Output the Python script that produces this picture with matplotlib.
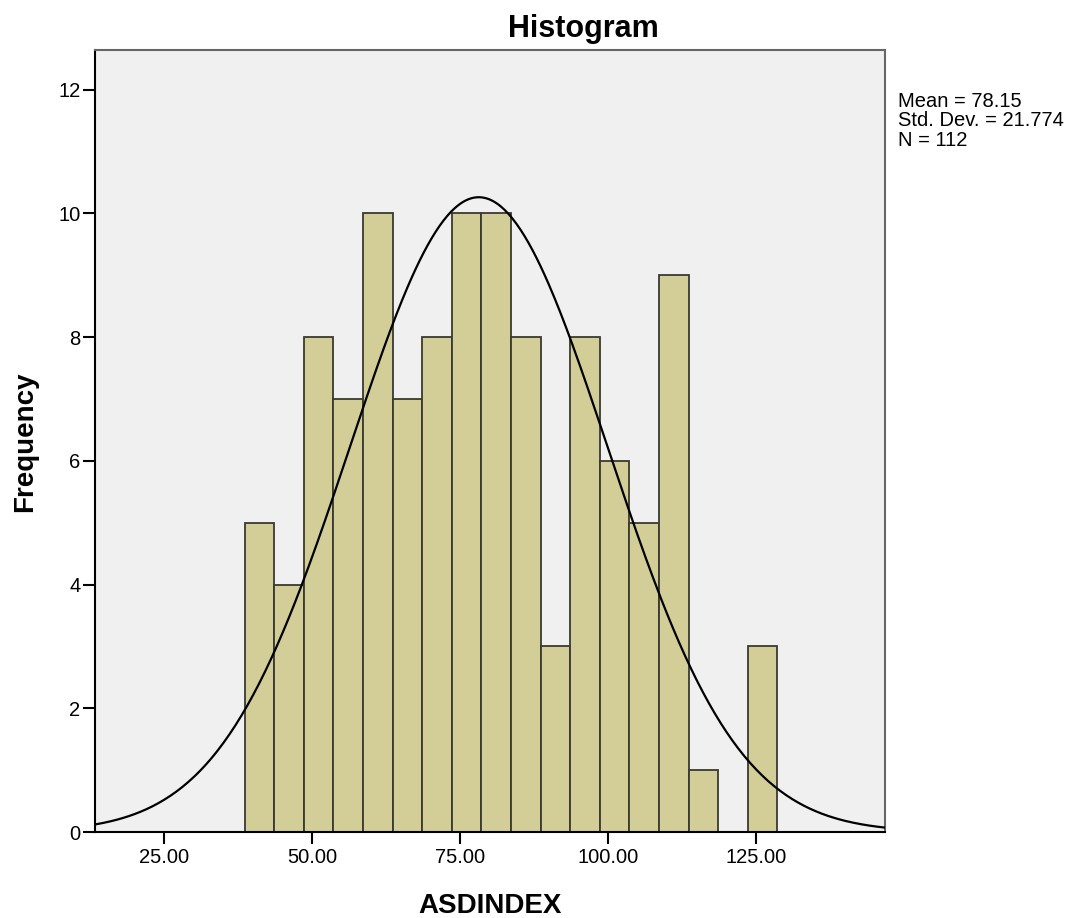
import matplotlib.pyplot as plt
import matplotlib
import numpy as np

matplotlib.rcParams['font.family'] = ['Liberation Sans', 'DejaVu Sans']

# 히스토그램 데이터 (구간 폭 5)
bin_start = 38.6
bin_width = 5.0
counts = [5, 4, 8, 7, 10, 7, 8, 10, 10, 8, 3, 8, 6, 5, 9, 1, 0, 3]

mean = 78.15
std = 21.774
n = 112

xticks = [25, 50, 75, 100, 125]
yticks = [0, 2, 4, 6, 8, 10, 12]

W, H = 1073, 918
fig = plt.figure(figsize=(W / 100, H / 100), dpi=100)
ax = fig.add_axes([95 / W, 1 - 832 / H, 790 / W, 782 / H])
ax.set_facecolor('#f0f0f0')

lefts = bin_start + bin_width * np.arange(len(counts))
ax.bar(lefts, counts, width=bin_width, align='edge', color='#d3ce97',
       edgecolor='#3a3a30', linewidth=1.3, zorder=2)

# 정규분포 곡선
xs = np.linspace(13.3, 146.8, 400)
ys = n * bin_width / (std * np.sqrt(2 * np.pi)) * np.exp(-0.5 * ((xs - mean) / std) ** 2)
ax.plot(xs, ys, color='black', linewidth=1.6, zorder=3)

ax.set_xlim(13.3, 146.8)
ax.set_ylim(0, 12.64)
ax.set_xticks(xticks)
ax.set_xticklabels(['%.2f' % v for v in xticks])
ax.set_yticks(yticks)
ax.tick_params(axis='both', direction='out', length=8.6, width=1.5, labelsize=14.5, colors='black')
ax.tick_params(axis='x', pad=3)
ax.tick_params(axis='y', pad=2)

for s in ['left', 'bottom']:
    ax.spines[s].set_color('black')
    ax.spines[s].set_linewidth(1.5)
for s in ['top', 'right']:
    ax.spines[s].set_color('#666666')
    ax.spines[s].set_linewidth(1.5)

fig.text(583 / W, 1 - 37 / H, 'Histogram', fontsize=22, fontweight='bold',
         ha='center', va='baseline')
fig.text(490 / W, 1 - 913 / H, 'ASDINDEX', fontsize=20, fontweight='bold',
         ha='center', va='baseline')
fig.text(25 / W, 1 - 442 / H, 'Frequency', fontsize=20, fontweight='bold',
         ha='center', va='center', rotation=90)
fig.text(898 / W, 1 - 92 / H,
         'Mean = %.2f\nStd. Dev. = %.3f\nN = %d' % (mean, std, n),
         fontsize=14.5, ha='left', va='top', linespacing=1.03)

plt.savefig('out.png', dpi=100)
